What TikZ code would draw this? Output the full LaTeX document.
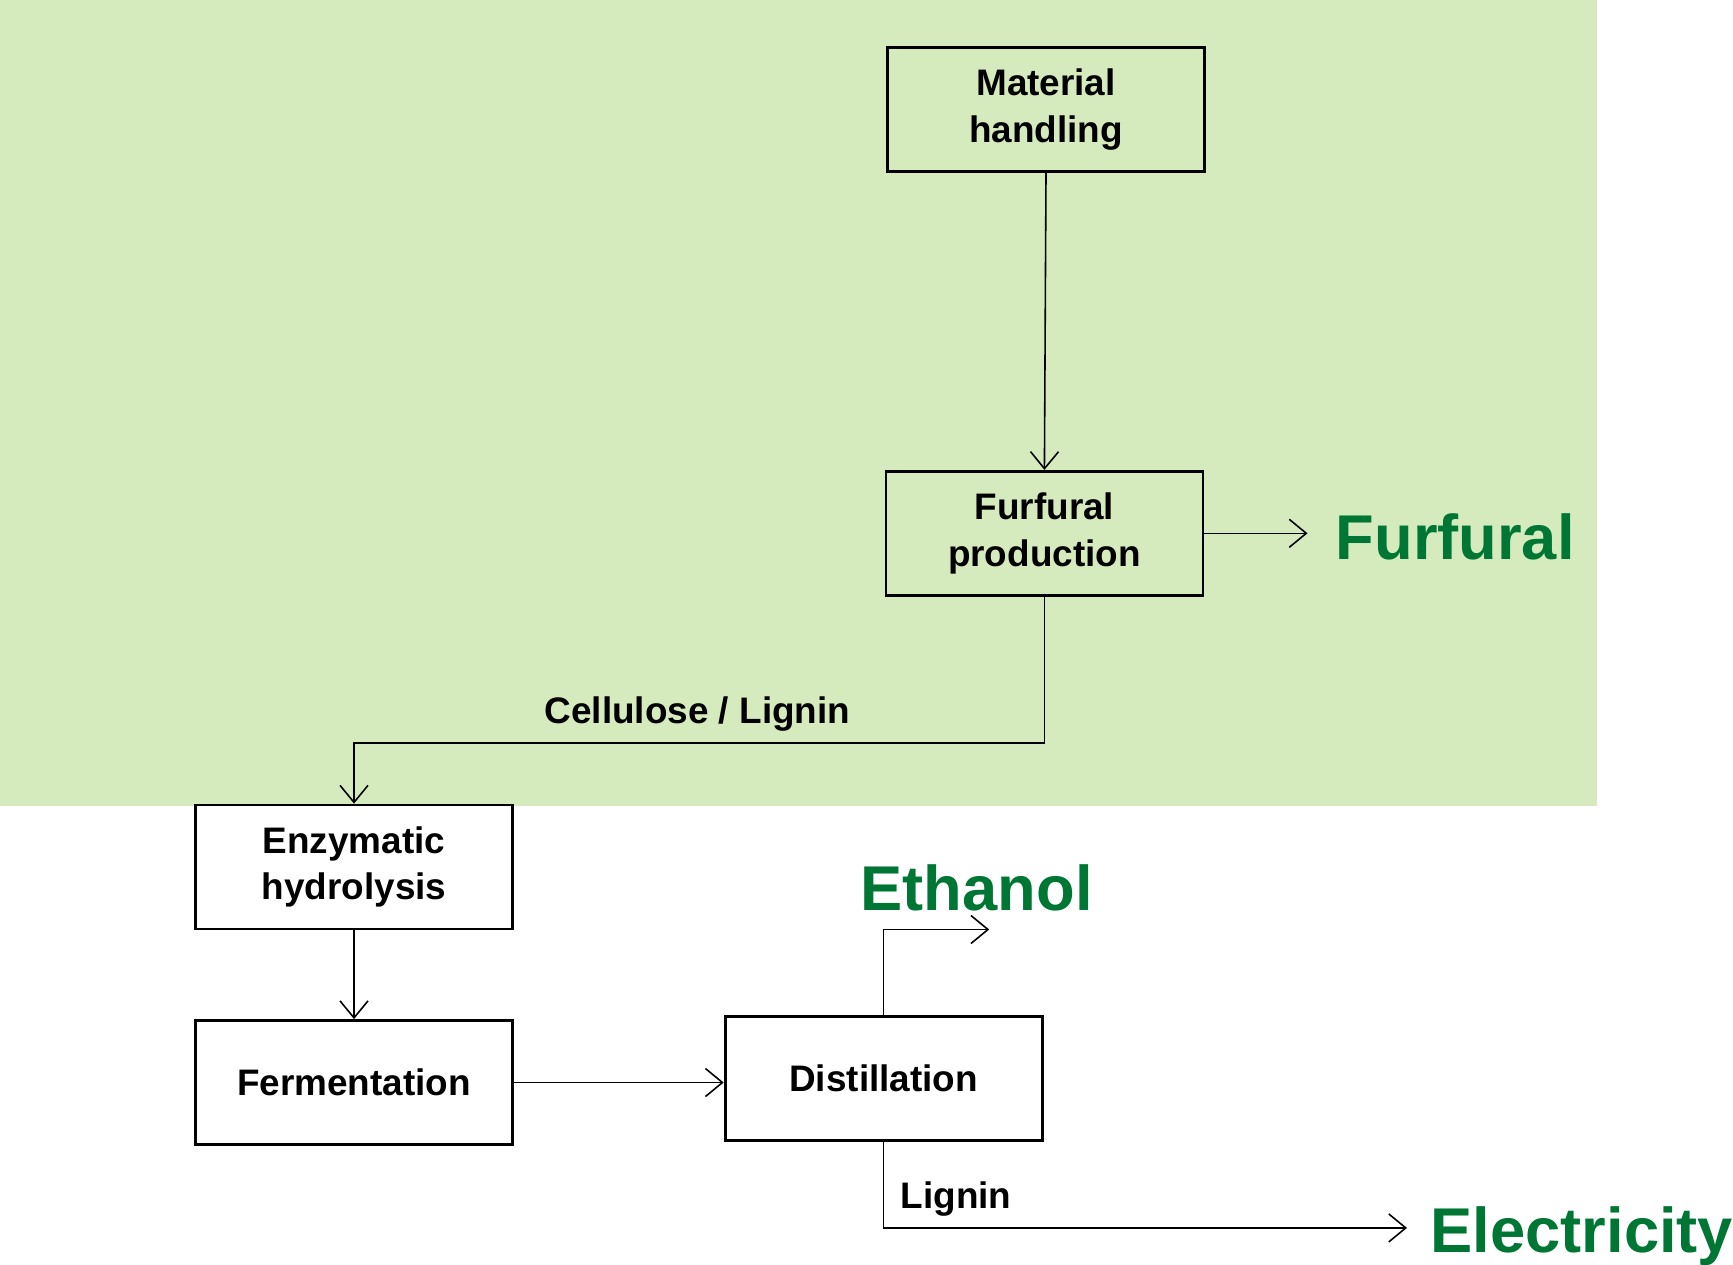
\documentclass[tikz,border=0pt]{standalone}
\usepackage{fontspec}
\setmainfont{Liberation Sans}
\usepackage{tikz}
\usetikzlibrary{arrows.meta, positioning, calc}

\definecolor{zonegreen}{RGB}{213,235,189}
\definecolor{prodgreen}{RGB}{0,118,52}

\begin{document}
\begin{tikzpicture}[
    process/.style={rectangle, draw=black, line width=0.8pt, minimum width=3.17cm, minimum height=1.24cm, font=\bfseries\fontsize{10.5}{13.2}\selectfont, align=center, inner sep=2pt},
    product/.style={font=\bfseries\fontsize{18}{21}\selectfont, text=prodgreen, inner sep=0pt},
    flowlabel/.style={font=\bfseries\fontsize{10.5}{12.8}\selectfont, inner sep=0pt},
    flow/.style={line width=0.45pt, -{Straight Barb[length=1.7mm, width=2.8mm]}}
]

% Page frame and shaded furfural zone
\useasboundingbox (0,0) rectangle (17.33,-12.64);
\fill[white] (0,0) rectangle (17.33,-12.64);
\fill[zonegreen] (0,0) rectangle (15.97,-8.06);

% Process boxes
\node[process, fill=zonegreen] (mathand)  at (10.46, -1.094) {Material\\handling};
\node[process, fill=zonegreen] (furfprod) at (10.444, -5.333) {Furfural\\production};
\node[process, fill=white]     (enzhyd)   at (3.54, -8.67)   {Enzymatic\\hydrolysis};
\node[process, fill=white]     (ferment)  at (3.54, -10.825) {Fermentation};
\node[process, fill=white]     (distil)   at (8.836, -10.781) {Distillation};

% Products
\node[product, anchor=base west] (furfural) at (13.35, -5.59)  {Furfural};
\node[product, anchor=base west] (ethanol)  at (8.60, -9.10)   {Ethanol};
\node[product, anchor=base west] (elec)     at (14.30, -12.52) {Electricity};

% Stream ends and bends
\coordinate (furfend) at (13.075, -5.333);
\coordinate (cellbend) at (3.54, -7.427);
\coordinate (ethend) at (9.892, -9.295);
\coordinate (elecend) at (14.07, -12.279);

% Main line
\draw[flow] (mathand.south) -- (furfprod.north);
\draw[flow] (furfprod.east) -- (furfend);
\draw[flow] (furfprod.south) |- (cellbend) -- (enzhyd.north);
\draw[flow] (enzhyd.south) -- (ferment.north);
\draw[flow] (ferment.east) -- (ferment.east -| distil.west);
\draw[flow] (distil.north) |- (ethend);
\draw[flow] (distil.south) |- (elecend);

% Stream labels
\node[flowlabel] (celllab) at (6.974, -7.14) {Cellulose / Lignin};
\node[flowlabel, anchor=west] (liglab) at (9.0, -11.99) {Lignin};

\end{tikzpicture}
\end{document}
